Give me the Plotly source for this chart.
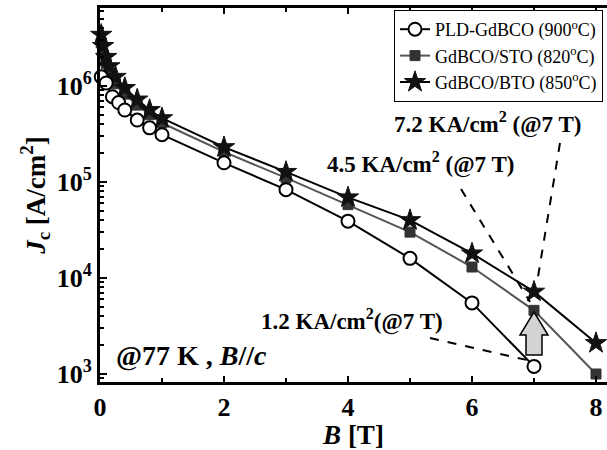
import plotly.graph_objects as go

# ---- data ----
b_pld = [0.02, 0.1, 0.2, 0.3, 0.4, 0.6, 0.8, 1.0, 2, 3, 4, 5, 6, 7]
jc_pld = [1.24e6, 1.07e6, 7.7e5, 6.7e5, 5.6e5, 4.4e5, 3.65e5, 3.1e5, 1.58e5, 8.3e4, 3.9e4, 1.6e4, 5.5e3, 1.2e3]

b_sto = [0.02, 0.05, 0.1, 0.15, 0.25, 0.4, 0.6, 0.8, 1.0, 2, 3, 4, 5, 6, 7, 8]
jc_sto = [2.8e6, 2.1e6, 1.7e6, 1.35e6, 1.05e6, 8.2e5, 6.3e5, 5.0e5, 4.1e5, 2.05e5, 1.1e5, 5.8e4, 3.0e4, 1.3e4, 4.6e3, 1.0e3]

b_bto = [0.02, 0.05, 0.1, 0.15, 0.25, 0.4, 0.6, 0.8, 1.0, 2, 3, 4, 5, 6, 7, 8]
jc_bto = [3.4e6, 2.6e6, 2.0e6, 1.6e6, 1.24e6, 9.5e5, 7.2e5, 5.6e5, 4.6e5, 2.3e5, 1.27e5, 6.9e4, 4.0e4, 1.8e4, 7.2e3, 2.1e3]

names = ["PLD-GdBCO (900<sup>o</sup>C)", "GdBCO/STO (820<sup>o</sup>C)", "GdBCO/BTO (850<sup>o</sup>C)"]

x_ticks = [0, 2, 4, 6, 8]
x_minor = [1, 3, 5, 7]
y_exps = [3, 4, 5, 6]
y_ticks = [10 ** e for e in y_exps]
y_ticktext = [f"<b>10<sup>{e}</sup></b>" for e in y_exps]
y_minor = [k * 10 ** n for n in range(2, 7) for k in range(2, 10)]

# ---- layout geometry (pixels) ----
W, H = 607, 450
L, R, T, B = 100, 0, 8, 68
PW, PH = W - L - R, H - T - B


def px(x):
    return (x - L) / PW


def py(y):
    return (H - B - y) / PH


SERIF = "Liberation Serif, Times New Roman, serif"

fig = go.Figure()
fig.add_trace(go.Scatter(x=b_sto, y=jc_sto, name=names[1], mode="lines+markers",
                         legendrank=2,
                         line=dict(color="#555555", width=2),
                         marker=dict(symbol="square", size=10, color="#333333",
                                     line=dict(color="#333333", width=1)),
                         cliponaxis=False))
fig.add_trace(go.Scatter(x=b_bto, y=jc_bto, name=names[2], mode="lines+markers",
                         legendrank=3,
                         line=dict(color="black", width=2),
                         marker=dict(symbol="star", size=16, color="#111111",
                                     line=dict(color="#111111", width=1)),
                         cliponaxis=False))
fig.add_trace(go.Scatter(x=b_pld, y=jc_pld, name=names[0], mode="lines+markers",
                         legendrank=1,
                         line=dict(color="black", width=2),
                         marker=dict(symbol="circle", size=13, color="white",
                                     line=dict(color="black", width=2)),
                         cliponaxis=False))

# dashed pointer lines
for (x0, y0, x1, y1) in [(560, 143, 537, 283), (461, 189, 530, 302), (430, 338, 527, 360)]:
    fig.add_shape(type="line", xref="paper", yref="paper",
                  x0=px(x0), y0=py(y0), x1=px(x1), y1=py(y1),
                  line=dict(color="black", width=2, dash="dash"))

# block arrow (up)
pts = [(526, 355), (542, 355), (542, 335), (548, 335), (534, 312), (520, 335), (526, 335)]
path = "M " + " L ".join(f"{px(x):.5f},{py(y):.5f}" for x, y in pts) + " Z"
fig.add_shape(type="path", xref="paper", yref="paper", path=path,
              fillcolor="#d3d3d3", line=dict(color="black", width=1.5))

ann_font = dict(family=SERIF, size=23, color="black")
for txt, cx, cy in [("7.2 KA/cm<sup>2</sup> (@7 T)", 487, 123),
                    ("4.5 KA/cm<sup>2</sup> (@7 T)", 420, 163),
                    ("1.2 KA/cm<sup>2</sup>(@7 T)", 352, 320)]:
    fig.add_annotation(xref="paper", yref="paper", x=px(cx), y=py(cy),
                       xanchor="center", yanchor="middle",
                       text=f"<b>{txt}</b>", showarrow=False, font=ann_font)
fig.add_annotation(xref="paper", yref="paper", x=px(191), y=py(355),
                   xanchor="center", yanchor="middle",
                   text="<b>@77 K , <i>B</i>//<i>c</i></b>", showarrow=False,
                   font=dict(family=SERIF, size=28, color="black"))

fig.update_layout(
    width=W, height=H,
    margin=dict(l=L, r=R, t=T, b=B),
    plot_bgcolor="white", paper_bgcolor="white",
    showlegend=True,
    legend=dict(x=px(603), y=py(10), xanchor="right", yanchor="top",
                bordercolor="black", borderwidth=1, bgcolor="white",
                font=dict(family=SERIF, size=18, color="black"),
                traceorder="normal", tracegroupgap=0),
    xaxis=dict(range=[0, PW / 62.0], showline=True, linecolor="black", linewidth=3,
               mirror="ticks", ticks="inside", ticklen=6, tickwidth=2, tickcolor="black",
               tickvals=x_ticks, ticktext=[f"<b>{v}</b>" for v in x_ticks],
               showgrid=False, zeroline=False, automargin=False,
               tickfont=dict(family=SERIF, size=26, color="black"),
               minor=dict(tickvals=x_minor, ticks="inside", ticklen=4, tickwidth=2,
                          tickcolor="black", showgrid=False),
               title=dict(text="<b><i>B</i> [T]</b>", standoff=0,
                          font=dict(family=SERIF, size=27, color="black"))),
    yaxis=dict(type="log", range=[2.917, 6.81], showline=True, linecolor="black", linewidth=3,
               ticks="inside", ticklen=7, tickwidth=2, tickcolor="black",
               tickvals=y_ticks, ticktext=y_ticktext,
               showgrid=False, zeroline=False, automargin=False,
               tickfont=dict(family=SERIF, size=26, color="black"),
               minor=dict(tickvals=y_minor, ticks="inside", ticklen=4, tickwidth=2,
                          tickcolor="black", showgrid=False),
               title=dict(text="<b><i>J</i><sub>c</sub> [A/cm<sup>2</sup>]</b>", standoff=4,
                          font=dict(family=SERIF, size=27, color="black"))),
)

fig.write_html("out.html")
